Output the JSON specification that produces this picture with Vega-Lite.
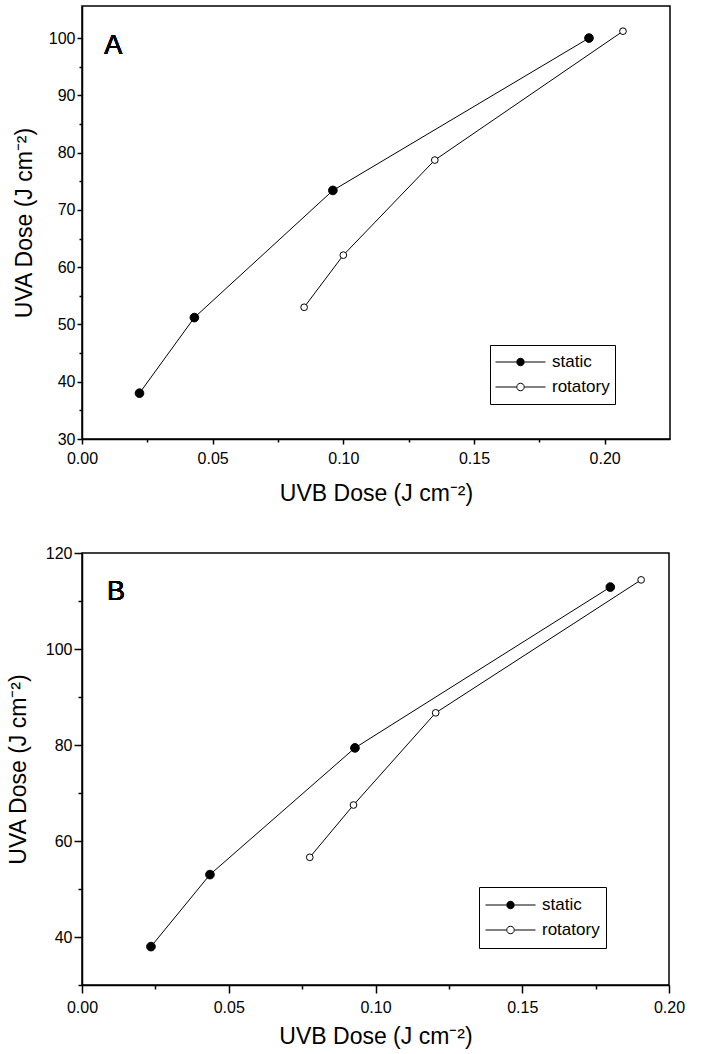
{
  "$schema": "https://vega.github.io/schema/vega-lite/v6.json",
  "padding": {"left": 6, "top": 5, "right": 5, "bottom": 0},
  "spacing": 38,
  "datasets": {
    "doses": [
      {"panel": "A", "series": "static", "uvb": 0.022, "uva": 38.0},
      {"panel": "A", "series": "static", "uvb": 0.043, "uva": 51.2},
      {"panel": "A", "series": "static", "uvb": 0.096, "uva": 73.4},
      {"panel": "A", "series": "static", "uvb": 0.194, "uva": 100.0},
      {"panel": "A", "series": "rotatory", "uvb": 0.085, "uva": 53.0},
      {"panel": "A", "series": "rotatory", "uvb": 0.100, "uva": 62.1},
      {"panel": "A", "series": "rotatory", "uvb": 0.135, "uva": 78.7},
      {"panel": "A", "series": "rotatory", "uvb": 0.207, "uva": 101.2},
      {"panel": "B", "series": "static", "uvb": 0.0235, "uva": 38.0},
      {"panel": "B", "series": "static", "uvb": 0.0436, "uva": 53.0},
      {"panel": "B", "series": "static", "uvb": 0.093, "uva": 79.4},
      {"panel": "B", "series": "static", "uvb": 0.180, "uva": 112.9},
      {"panel": "B", "series": "rotatory", "uvb": 0.0776, "uva": 56.6},
      {"panel": "B", "series": "rotatory", "uvb": 0.0925, "uva": 67.5},
      {"panel": "B", "series": "rotatory", "uvb": 0.1205, "uva": 86.7},
      {"panel": "B", "series": "rotatory", "uvb": 0.1905, "uva": 114.4}
    ]
  },
  "config": {
    "font": "Liberation Sans",
    "view": {"stroke": "black", "strokeWidth": 1.5},
    "axis": {
      "grid": false,
      "domainColor": "black",
      "domainWidth": 1.5,
      "tickColor": "black",
      "tickWidth": 1.5,
      "labelColor": "black",
      "labelFont": "Liberation Sans",
      "labelFontSize": 16,
      "titleColor": "black",
      "titleFont": "Liberation Sans",
      "titleFontSize": 23,
      "titleFontWeight": "normal",
      "labelFlush": false,
      "labelOverlap": false
    }
  },
  "resolve": {
    "scale": {"x": "independent", "y": "independent", "fill": "independent"},
    "legend": {"fill": "independent"}
  },
  "vconcat": [
    {
      "width": 588,
      "height": 433,
      "data": {"name": "doses"},
      "transform": [{"filter": "datum.panel == 'A'"}],
      "encoding": {
        "x": {
          "field": "uvb", "type": "quantitative",
          "scale": {"domain": [0, 0.225], "nice": false, "zero": false},
          "axis": {
            "title": "UVB Dose (J cm⁻²)",
            "values": [0, 0.025, 0.05, 0.075, 0.1, 0.125, 0.15, 0.175, 0.2],
            "labelExpr": "abs(datum.value*20 - round(datum.value*20)) < 0.000001 ? format(datum.value, '.2f') : ''",
            "tickSize": {"condition": {"test": "abs(datum.value*20 - round(datum.value*20)) < 0.000001", "value": 5}, "value": 3},
            "labelPadding": 6,
            "titlePadding": 16
          }
        },
        "y": {
          "field": "uva", "type": "quantitative",
          "scale": {"domain": [30, 105.6], "nice": false, "zero": false},
          "axis": {
            "title": "UVA Dose (J cm⁻²)",
            "values": [30, 35, 40, 45, 50, 55, 60, 65, 70, 75, 80, 85, 90, 95, 100],
            "labelExpr": "datum.value % 10 == 0 ? datum.value : ''",
            "tickSize": {"condition": {"test": "datum.value % 10 == 0", "value": 5}, "value": 3},
            "labelPadding": 2,
            "titlePadding": 12
          }
        }
      },
      "layer": [
        {
          "mark": {"type": "line", "color": "black", "strokeWidth": 1},
          "encoding": {"detail": {"field": "series", "type": "nominal"}}
        },
        {
          "mark": {"type": "point", "shape": "circle", "filled": true, "stroke": "black", "strokeWidth": 1, "opacity": 1},
          "encoding": {
            "fill": {
              "field": "series", "type": "nominal",
              "scale": {"domain": ["static", "rotatory"], "range": ["black", "white"]},
              "legend": {
                "orient": "none", "legendX": 408, "legendY": 339, "title": null,
                "symbolType": "M-1,0 L-0.17,0 M0.17,0 L1,0 M-0.15,0 A0.15,0.15 0 1,0 0.15,0 A0.15,0.15 0 1,0 -0.15,0 Z",
                "symbolSize": 2500, "symbolStrokeColor": "black", "symbolStrokeWidth": 1,
                "labelFont": "Liberation Sans", "labelFontSize": 17, "labelColor": "black", "labelOffset": 6,
                "strokeColor": "black", "fillColor": "white", "padding": 5, "clipHeight": 24, "rowPadding": 1
              }
            },
            "size": {"condition": {"test": "datum.series == 'static'", "value": 75}, "value": 45}
          }
        },
        {
          "mark": {"type": "text", "text": "A", "fontSize": 27, "font": "Liberation Sans", "align": "left", "baseline": "alphabetic", "color": "black"},
          "encoding": {"x": {"datum": 0.0085}, "y": {"datum": 97.3}}
        }
      ]
    },
    {
      "width": 587,
      "height": 432,
      "data": {"name": "doses"},
      "transform": [{"filter": "datum.panel == 'B'"}],
      "encoding": {
        "x": {
          "field": "uvb", "type": "quantitative",
          "scale": {"domain": [0, 0.2], "nice": false, "zero": false},
          "axis": {
            "title": "UVB Dose (J cm⁻²)",
            "values": [0, 0.025, 0.05, 0.075, 0.1, 0.125, 0.15, 0.175, 0.2],
            "labelExpr": "abs(datum.value*20 - round(datum.value*20)) < 0.000001 ? format(datum.value, '.2f') : ''",
            "tickSize": {"condition": {"test": "abs(datum.value*20 - round(datum.value*20)) < 0.000001", "value": 8}, "value": 4},
            "labelPadding": 6,
            "titlePadding": 10
          }
        },
        "y": {
          "field": "uva", "type": "quantitative",
          "scale": {"domain": [30, 120], "nice": false, "zero": false},
          "axis": {
            "title": "UVA Dose (J cm⁻²)",
            "values": [30, 40, 50, 60, 70, 80, 90, 100, 110, 120],
            "labelExpr": "datum.value % 20 == 0 ? datum.value : ''",
            "tickSize": {"condition": {"test": "datum.value % 20 == 0", "value": 8}, "value": 4},
            "labelPadding": 2,
            "titlePadding": 15
          }
        }
      },
      "layer": [
        {
          "mark": {"type": "line", "color": "black", "strokeWidth": 1},
          "encoding": {"detail": {"field": "series", "type": "nominal"}}
        },
        {
          "mark": {"type": "point", "shape": "circle", "filled": true, "stroke": "black", "strokeWidth": 1, "opacity": 1},
          "encoding": {
            "fill": {
              "field": "series", "type": "nominal",
              "scale": {"domain": ["static", "rotatory"], "range": ["black", "white"]},
              "legend": {
                "orient": "none", "legendX": 397, "legendY": 334, "title": null,
                "symbolType": "M-1,0 L-0.17,0 M0.17,0 L1,0 M-0.15,0 A0.15,0.15 0 1,0 0.15,0 A0.15,0.15 0 1,0 -0.15,0 Z",
                "symbolSize": 2500, "symbolStrokeColor": "black", "symbolStrokeWidth": 1,
                "labelFont": "Liberation Sans", "labelFontSize": 17, "labelColor": "black", "labelOffset": 6,
                "strokeColor": "black", "fillColor": "white", "padding": 6, "clipHeight": 24, "rowPadding": 1
              }
            },
            "size": {"condition": {"test": "datum.series == 'static'", "value": 75}, "value": 45}
          }
        },
        {
          "mark": {"type": "text", "text": "B", "fontSize": 27, "font": "Liberation Sans", "align": "left", "baseline": "alphabetic", "color": "black"},
          "encoding": {"x": {"datum": 0.0085}, "y": {"datum": 110.2}}
        }
      ]
    }
  ]
}
